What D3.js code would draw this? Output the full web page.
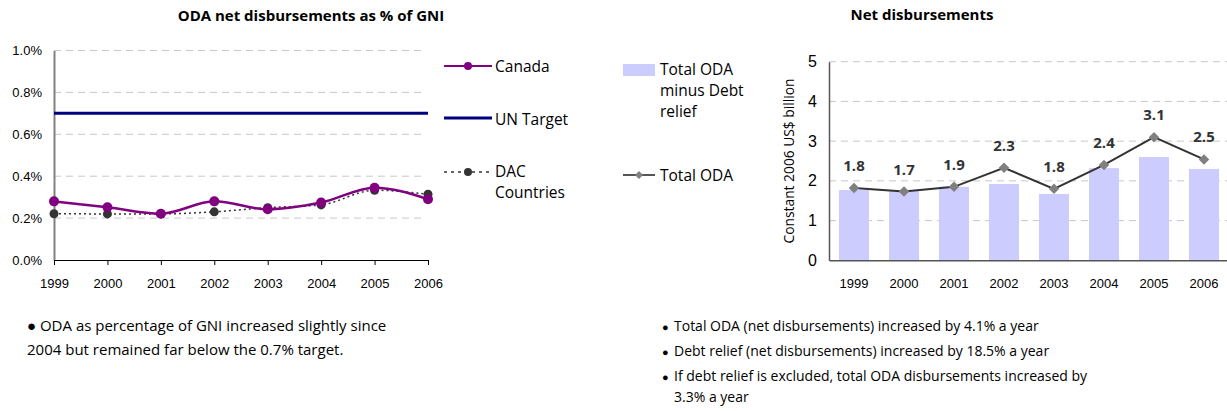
<!DOCTYPE html>
<html>
<head>
<meta charset="utf-8">
<script src="https://cdn.jsdelivr.net/npm/d3@7"></script>
<style>
  body { margin: 0; background: #fff; }
  svg { display: block; font-family: "Open Sans", sans-serif; }
</style>
</head>
<body>
<svg id="chart"></svg>
<script>
const WIDTH = 1227;
const HEIGHT = 411;

const years = ["1999", "2000", "2001", "2002", "2003", "2004", "2005", "2006"];

// left chart, % of GNI
const canada = [0.28, 0.252, 0.221, 0.28, 0.242, 0.274, 0.345, 0.29];
const dac = [0.221, 0.22, 0.22, 0.23, 0.25, 0.263, 0.333, 0.314];
const unTarget = 0.7;
const pctTicks = [0, 0.2, 0.4, 0.6, 0.8, 1.0];

// right chart, constant 2006 US$ billion
const odaMinusDebt = [1.77, 1.745, 1.85, 1.92, 1.67, 2.32, 2.6, 2.3];
const totalOda = [1.82, 1.73, 1.85, 2.33, 1.8, 2.4, 3.1, 2.54];
const totalOdaLabels = ["1.8", "1.7", "1.9", "2.3", "1.8", "2.4", "3.1", "2.5"];
const usdTicks = [0, 1, 2, 3, 4, 5];

const leftNotes = [
  "\u25CF ODA as percentage of GNI increased slightly since",
  "2004 but remained far below the 0.7% target."
];
const rightNotes = [
  ["Total ODA (net disbursements) increased by 4.1% a year"],
  ["Debt relief (net disbursements) increased by 18.5% a year"],
  ["If debt relief is excluded, total ODA disbursements increased by", "3.3% a year"]
];

const svg = d3.select("#chart").attr("width", WIDTH).attr("height", HEIGHT);

// ---------- left chart ----------
const lx = d3.scalePoint().domain(years).range([54, 428]);
const ly = d3.scaleLinear().domain([0, 1]).range([260, 50.5]);

svg.append("text")
  .attr("x", 311).attr("y", 21)
  .attr("text-anchor", "middle")
  .style("font-size", "15px").style("font-weight", "bold")
  .text("ODA net disbursements as % of GNI");

// grid
svg.append("g")
  .selectAll("line")
  .data(pctTicks.slice(1))
  .join("line")
  .attr("x1", 54).attr("x2", 424)
  .attr("y1", (d) => ly(d)).attr("y2", (d) => ly(d))
  .attr("stroke", "#c8c8c8")
  .attr("stroke-dasharray", "7,5");

const lAxisY = svg.append("g")
  .attr("transform", "translate(54,0)")
  .call(d3.axisLeft(ly).tickValues(pctTicks).tickFormat((d) => d.toFixed(1) + "%").tickSize(0).tickPadding(12));
lAxisY.select(".domain").attr("stroke", "#808080").attr("stroke-width", 2);
lAxisY.selectAll("text").style("font-size", "13px").attr("fill", "#000");

const lAxisX = svg.append("g")
  .attr("transform", "translate(0,260)")
  .call(d3.axisBottom(lx).tickSize(5).tickSizeOuter(0).tickPadding(14));
lAxisX.select(".domain").attr("stroke", "#000");
lAxisX.selectAll("text").style("font-size", "13px").attr("fill", "#000");

// UN target
svg.append("line")
  .attr("x1", lx(years[0])).attr("x2", lx(years[years.length - 1]))
  .attr("y1", ly(unTarget)).attr("y2", ly(unTarget))
  .attr("stroke", "#000080").attr("stroke-width", 3);

const lineL = (vals) => d3.line()
  .x((d, i) => lx(years[i]))
  .y((d) => ly(d))
  .curve(d3.curveMonotoneX)(vals);

// DAC
svg.append("path")
  .attr("d", lineL(dac))
  .attr("fill", "none")
  .attr("stroke", "#333")
  .attr("stroke-width", 1.5)
  .attr("stroke-dasharray", "2,3");
svg.append("g")
  .selectAll("circle")
  .data(dac)
  .join("circle")
  .attr("cx", (d, i) => lx(years[i])).attr("cy", (d) => ly(d))
  .attr("r", 4.5).attr("fill", "#333");

// Canada
svg.append("path")
  .attr("d", lineL(canada))
  .attr("fill", "none")
  .attr("stroke", "#800080")
  .attr("stroke-width", 2.5);
svg.append("g")
  .selectAll("circle")
  .data(canada)
  .join("circle")
  .attr("cx", (d, i) => lx(years[i])).attr("cy", (d) => ly(d))
  .attr("r", 5).attr("fill", "#800080");

// left legend
const lleg = svg.append("g").style("font-size", "15.5px");
lleg.append("line").attr("x1", 444).attr("x2", 492).attr("y1", 66).attr("y2", 66)
  .attr("stroke", "#800080").attr("stroke-width", 2);
lleg.append("circle").attr("cx", 468).attr("cy", 66).attr("r", 4).attr("fill", "#800080");
lleg.append("text").attr("x", 495).attr("y", 72).text("Canada");

lleg.append("line").attr("x1", 444).attr("x2", 492).attr("y1", 118).attr("y2", 118)
  .attr("stroke", "#000080").attr("stroke-width", 3);
lleg.append("text").attr("x", 495).attr("y", 125).text("UN Target");

lleg.append("line").attr("x1", 444).attr("x2", 492).attr("y1", 172).attr("y2", 172)
  .attr("stroke", "#333").attr("stroke-width", 1.5).attr("stroke-dasharray", "3,4");
lleg.append("circle").attr("cx", 468).attr("cy", 172).attr("r", 4).attr("fill", "#333");
lleg.append("text").attr("x", 495).attr("y", 177).text("DAC");
lleg.append("text").attr("x", 495).attr("y", 198).text("Countries");

// ---------- right chart ----------
const rx = d3.scaleBand().domain(years).range([829, 1229]).paddingInner(0.4).paddingOuter(0.2);
const ry = d3.scaleLinear().domain([0, 5]).range([260.3, 61.7]);

svg.append("text")
  .attr("x", 922).attr("y", 20)
  .attr("text-anchor", "middle")
  .style("font-size", "15px").style("font-weight", "bold")
  .text("Net disbursements");

svg.append("g")
  .selectAll("line")
  .data(usdTicks.slice(1))
  .join("line")
  .attr("x1", 829).attr("x2", 1227)
  .attr("y1", (d) => ry(d)).attr("y2", (d) => ry(d))
  .attr("stroke", "#c8c8c8")
  .attr("stroke-dasharray", "7,5");

svg.append("g")
  .selectAll("rect")
  .data(odaMinusDebt)
  .join("rect")
  .attr("x", (d, i) => rx(years[i]))
  .attr("width", rx.bandwidth())
  .attr("y", (d) => ry(d))
  .attr("height", (d) => ry(0) - ry(d))
  .attr("fill", "#ccccff");

const rAxisY = svg.append("g")
  .attr("transform", "translate(829,0)")
  .call(d3.axisLeft(ry).tickValues(usdTicks).tickFormat(d3.format("d")).tickSize(0).tickPadding(12));
rAxisY.select(".domain").attr("stroke", "#555").attr("stroke-width", 1.5);
rAxisY.selectAll("text").style("font-size", "16px").attr("fill", "#000");

const rAxisX = svg.append("g")
  .attr("transform", "translate(0,260.3)")
  .call(d3.axisBottom(rx).tickSize(0).tickPadding(18));
rAxisX.select(".domain").attr("stroke", "#555").attr("stroke-width", 1.5);
rAxisX.selectAll("text").style("font-size", "13px").attr("fill", "#000");

svg.append("text")
  .attr("transform", "translate(794,161) rotate(-90)")
  .attr("text-anchor", "middle")
  .style("font-size", "13.8px")
  .text("Constant 2006 US$ billion");

const rcx = (i) => rx(years[i]) + rx.bandwidth() / 2;

svg.append("path")
  .attr("d", d3.line().x((d, i) => rcx(i)).y((d) => ry(d))(totalOda))
  .attr("fill", "none")
  .attr("stroke", "#333")
  .attr("stroke-width", 2);

const diamond = d3.symbol().type(d3.symbolDiamond2).size(70);
svg.append("g")
  .selectAll("path")
  .data(totalOda)
  .join("path")
  .attr("d", diamond)
  .attr("transform", (d, i) => `translate(${rcx(i)},${ry(d)})`)
  .attr("fill", "#808080");

svg.append("g")
  .selectAll("text")
  .data(totalOda)
  .join("text")
  .attr("x", (d, i) => rcx(i))
  .attr("y", (d) => ry(d) - 17)
  .attr("text-anchor", "middle")
  .style("font-size", "15px").style("font-weight", "bold").attr("fill", "#333")
  .text((d, i) => totalOdaLabels[i]);

// right legend
const rleg = svg.append("g").style("font-size", "15.5px");
rleg.append("rect").attr("x", 623).attr("y", 64).attr("width", 32).attr("height", 12).attr("fill", "#ccccff");
rleg.append("text").attr("x", 660).attr("y", 75).text("Total ODA");
rleg.append("text").attr("x", 660).attr("y", 96).text("minus Debt");
rleg.append("text").attr("x", 660).attr("y", 117).text("relief");
rleg.append("line").attr("x1", 623).attr("x2", 655).attr("y1", 175).attr("y2", 175)
  .attr("stroke", "#555").attr("stroke-width", 2);
rleg.append("path").attr("d", d3.symbol().type(d3.symbolDiamond2).size(40))
  .attr("transform", "translate(639,175)").attr("fill", "#808080");
rleg.append("text").attr("x", 660).attr("y", 181).text("Total ODA");

// ---------- notes ----------
svg.append("g")
  .selectAll("text")
  .data(leftNotes)
  .join("text")
  .attr("x", 27).attr("y", (d, i) => 331 + i * 24)
  .style("font-size", "15px")
  .text((d) => d);

let ny = 331;
rightNotes.forEach((lines) => {
  svg.append("text").attr("x", 662).attr("y", ny).style("font-size", "11px").text("\u25CF");
  lines.forEach((t, j) => {
    svg.append("text").attr("x", 674).attr("y", ny + j * 21).style("font-size", "14px").text(t);
  });
  ny += 25 + (lines.length - 1) * 21;
});
</script>
</body>
</html>
